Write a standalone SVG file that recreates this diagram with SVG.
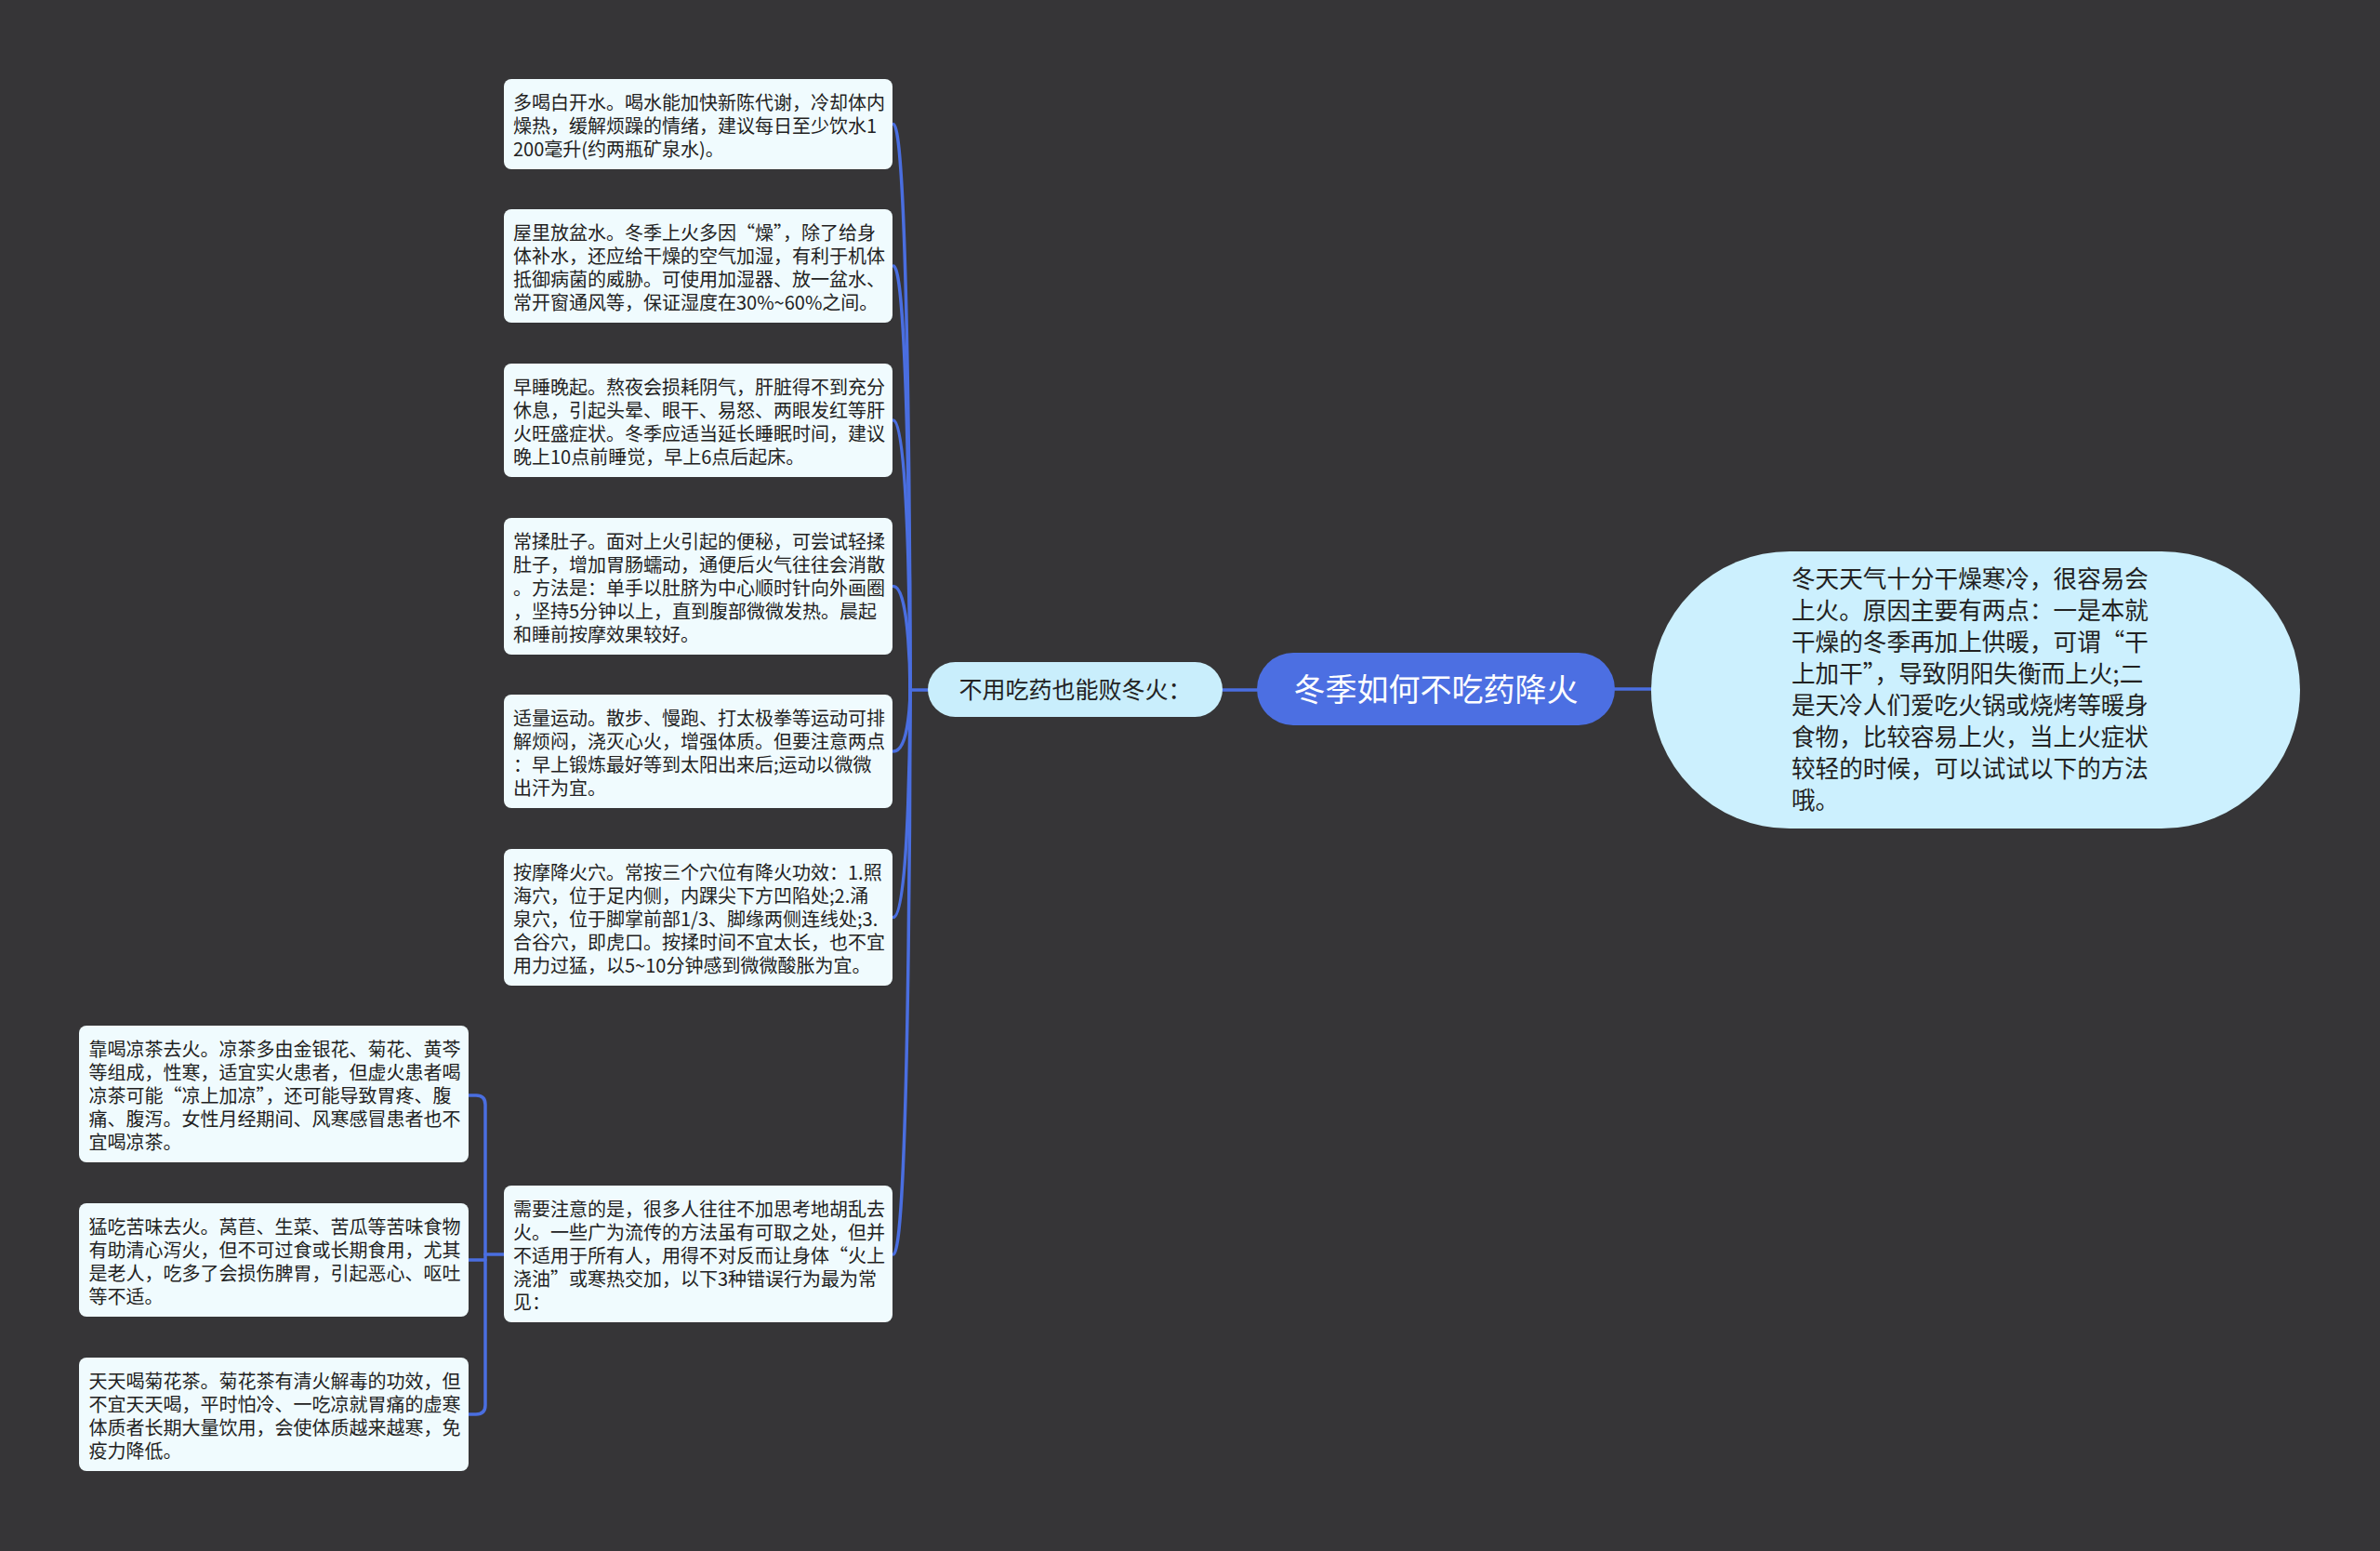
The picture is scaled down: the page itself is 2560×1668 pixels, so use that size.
<svg xmlns="http://www.w3.org/2000/svg" width="2560" height="1668" viewBox="0 0 2560 1668">
<style>
.bg{fill:#363537}
.box{fill:#f0fbfe}
.bt{font-family:"Noto Sans CJK SC","Noto Sans",sans-serif;font-size:20px;fill:#222222}
.mid{fill:#c9eefc}
.mt{font-family:"Noto Sans CJK SC","Noto Sans",sans-serif;font-size:25px;fill:#222222}
.root{fill:#4c6fe2}
.rt{font-family:"Noto Sans CJK SC","Noto Sans",sans-serif;font-size:34px;fill:#ffffff}
.bub{fill:#ccf0fe}
.bubt{font-family:"Noto Sans CJK SC","Noto Sans",sans-serif;font-size:25.6px;fill:#222222}
.c{fill:none;stroke:#4a6ee0;stroke-width:3.5;stroke-linecap:round}
</style>
<rect class="bg" x="0" y="0" width="2560" height="1668"/>

<g id="connectors">
  <path class="c" d="M 1737 741 L 1776 741"/>
  <path class="c" d="M 1315 742 L 1352 742"/>
  <path class="c" d="M 998 742 L 979 742"/>
  <path class="c" d="M 961 133.5 C 979 133.5 979 742 979 742"/>
  <path class="c" d="M 961 286 C 979 286 979 742 979 742"/>
  <path class="c" d="M 961 452 C 979 452 979 742 979 742"/>
  <path class="c" d="M 961 630.5 C 979 630.5 979 742 979 742"/>
  <path class="c" d="M 961 808 C 979 808 979 742 979 742"/>
  <path class="c" d="M 961 986.5 C 979 986.5 979 742 979 742"/>
  <path class="c" d="M 961 1349 C 979 1349 979 742 979 742"/>
  <path class="c" d="M 542 1349 L 522 1349"/>
  <path class="c" d="M 522 1349 L 522 1188 Q 522 1178 512 1178 L 504 1178"/>
  <path class="c" d="M 522 1349 L 522 1511 Q 522 1521 512 1521 L 504 1521"/>
  <path class="c" d="M 522 1355 L 504 1355"/>
</g>

<g id="node-root">
  <rect class="root" x="1352" y="702" width="385" height="78" rx="39"/>
  <text class="rt" x="1544.5" y="754" text-anchor="middle">冬季如何不吃药降火</text>
</g>

<g id="node-intro">
  <rect class="bub" x="1776" y="593" width="698" height="298" rx="149"/>
  <text class="bubt">
    <tspan x="1927" y="632">冬天天气十分干燥寒冷，很容易会</tspan>
    <tspan x="1927" y="666">上火。原因主要有两点：一是本就</tspan>
    <tspan x="1927" y="700">干燥的冬季再加上供暖，可谓“干</tspan>
    <tspan x="1927" y="734">上加干”，导致阴阳失衡而上火;二</tspan>
    <tspan x="1927" y="768">是天冷人们爱吃火锅或烧烤等暖身</tspan>
    <tspan x="1927" y="802">食物，比较容易上火，当上火症状</tspan>
    <tspan x="1927" y="836">较轻的时候，可以试试以下的方法</tspan>
    <tspan x="1927" y="870">哦。</tspan>
  </text>
</g>

<g id="node-mid">
  <rect class="mid" x="998" y="712" width="317" height="59" rx="29.5"/>
  <text class="mt" x="1156.5" y="751" text-anchor="middle">不用吃药也能败冬火：</text>
</g>

<g id="node-1">
  <rect class="box" x="542" y="85" width="418" height="97" rx="8"/>
  <text class="bt">
    <tspan x="552" y="117.5">多喝白开水。喝水能加快新陈代谢，冷却体内</tspan>
    <tspan x="552" y="142.5">燥热，缓解烦躁的情绪，建议每日至少饮水1</tspan>
    <tspan x="552" y="167.5">200毫升(约两瓶矿泉水)。</tspan>
  </text>
</g>

<g id="node-2">
  <rect class="box" x="542" y="225" width="418" height="122" rx="8"/>
  <text class="bt">
    <tspan x="552" y="257.5">屋里放盆水。冬季上火多因“燥”，除了给身</tspan>
    <tspan x="552" y="282.5">体补水，还应给干燥的空气加湿，有利于机体</tspan>
    <tspan x="552" y="307.5">抵御病菌的威胁。可使用加湿器、放一盆水、</tspan>
    <tspan x="552" y="332.5">常开窗通风等，保证湿度在30%~60%之间。</tspan>
  </text>
</g>

<g id="node-3">
  <rect class="box" x="542" y="391" width="418" height="122" rx="8"/>
  <text class="bt">
    <tspan x="552" y="423.5">早睡晚起。熬夜会损耗阴气，肝脏得不到充分</tspan>
    <tspan x="552" y="448.5">休息，引起头晕、眼干、易怒、两眼发红等肝</tspan>
    <tspan x="552" y="473.5">火旺盛症状。冬季应适当延长睡眠时间，建议</tspan>
    <tspan x="552" y="498.5">晚上10点前睡觉，早上6点后起床。</tspan>
  </text>
</g>

<g id="node-4">
  <rect class="box" x="542" y="557" width="418" height="147" rx="8"/>
  <text class="bt">
    <tspan x="552" y="589.5">常揉肚子。面对上火引起的便秘，可尝试轻揉</tspan>
    <tspan x="552" y="614.5">肚子，增加胃肠蠕动，通便后火气往往会消散</tspan>
    <tspan x="552" y="639.5">。方法是：单手以肚脐为中心顺时针向外画圈</tspan>
    <tspan x="552" y="664.5">，坚持5分钟以上，直到腹部微微发热。晨起</tspan>
    <tspan x="552" y="689.5">和睡前按摩效果较好。</tspan>
  </text>
</g>

<g id="node-5">
  <rect class="box" x="542" y="747" width="418" height="122" rx="8"/>
  <text class="bt">
    <tspan x="552" y="779.5">适量运动。散步、慢跑、打太极拳等运动可排</tspan>
    <tspan x="552" y="804.5">解烦闷，浇灭心火，增强体质。但要注意两点</tspan>
    <tspan x="552" y="829.5">：早上锻炼最好等到太阳出来后;运动以微微</tspan>
    <tspan x="552" y="854.5">出汗为宜。</tspan>
  </text>
</g>

<g id="node-6">
  <rect class="box" x="542" y="913" width="418" height="147" rx="8"/>
  <text class="bt">
    <tspan x="552" y="945.5">按摩降火穴。常按三个穴位有降火功效：1.照</tspan>
    <tspan x="552" y="970.5">海穴，位于足内侧，内踝尖下方凹陷处;2.涌</tspan>
    <tspan x="552" y="995.5">泉穴，位于脚掌前部1/3、脚缘两侧连线处;3.</tspan>
    <tspan x="552" y="1020.5">合谷穴，即虎口。按揉时间不宜太长，也不宜</tspan>
    <tspan x="552" y="1045.5">用力过猛，以5~10分钟感到微微酸胀为宜。</tspan>
  </text>
</g>

<g id="node-7">
  <rect class="box" x="542" y="1275" width="418" height="147" rx="8"/>
  <text class="bt">
    <tspan x="552" y="1307.5">需要注意的是，很多人往往不加思考地胡乱去</tspan>
    <tspan x="552" y="1332.5">火。一些广为流传的方法虽有可取之处，但并</tspan>
    <tspan x="552" y="1357.5">不适用于所有人，用得不对反而让身体“火上</tspan>
    <tspan x="552" y="1382.5">浇油”或寒热交加，以下3种错误行为最为常</tspan>
    <tspan x="552" y="1407.5">见：</tspan>
  </text>
</g>

<g id="node-7-1">
  <rect class="box" x="85" y="1103" width="419" height="147" rx="8"/>
  <text class="bt">
    <tspan x="95.5" y="1135.5">靠喝凉茶去火。凉茶多由金银花、菊花、黄芩</tspan>
    <tspan x="95.5" y="1160.5">等组成，性寒，适宜实火患者，但虚火患者喝</tspan>
    <tspan x="95.5" y="1185.5">凉茶可能“凉上加凉”，还可能导致胃疼、腹</tspan>
    <tspan x="95.5" y="1210.5">痛、腹泻。女性月经期间、风寒感冒患者也不</tspan>
    <tspan x="95.5" y="1235.5">宜喝凉茶。</tspan>
  </text>
</g>

<g id="node-7-2">
  <rect class="box" x="85" y="1294" width="419" height="122" rx="8"/>
  <text class="bt">
    <tspan x="95.5" y="1326.5">猛吃苦味去火。莴苣、生菜、苦瓜等苦味食物</tspan>
    <tspan x="95.5" y="1351.5">有助清心泻火，但不可过食或长期食用，尤其</tspan>
    <tspan x="95.5" y="1376.5">是老人，吃多了会损伤脾胃，引起恶心、呕吐</tspan>
    <tspan x="95.5" y="1401.5">等不适。</tspan>
  </text>
</g>

<g id="node-7-3">
  <rect class="box" x="85" y="1460" width="419" height="122" rx="8"/>
  <text class="bt">
    <tspan x="95.5" y="1492.5">天天喝菊花茶。菊花茶有清火解毒的功效，但</tspan>
    <tspan x="95.5" y="1517.5">不宜天天喝，平时怕冷、一吃凉就胃痛的虚寒</tspan>
    <tspan x="95.5" y="1542.5">体质者长期大量饮用，会使体质越来越寒，免</tspan>
    <tspan x="95.5" y="1567.5">疫力降低。</tspan>
  </text>
</g>
</svg>
